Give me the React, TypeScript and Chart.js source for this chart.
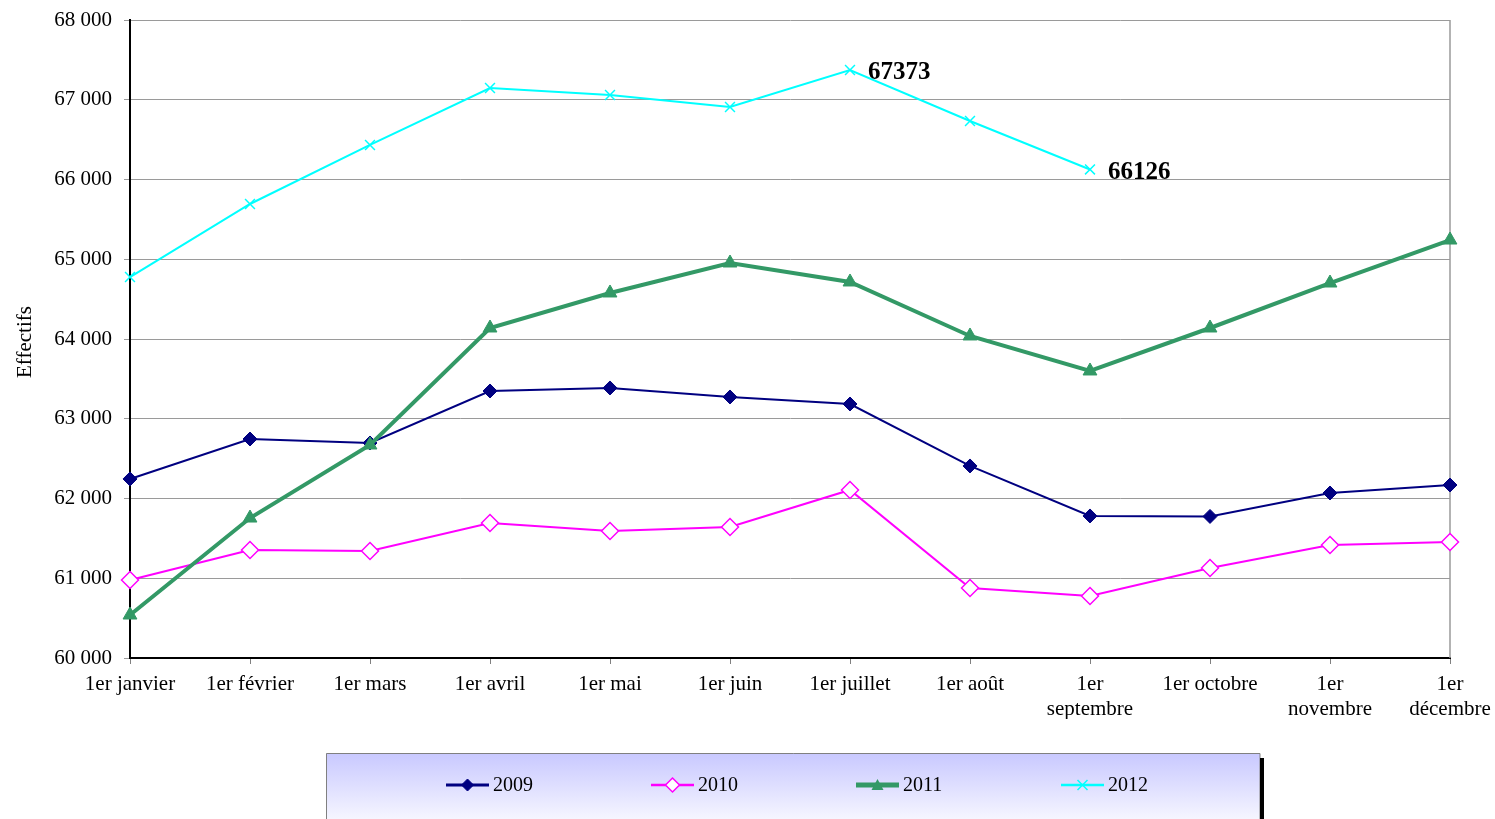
import React, { useEffect, useRef } from 'react';
import { Chart, registerables } from 'chart.js';

Chart.register(...registerables);

const categories: (string | string[])[] = [
  '1er janvier', '1er février', '1er mars', '1er avril', '1er mai', '1er juin',
  '1er juillet', '1er août', ['1er', 'septembre'], '1er octobre', ['1er', 'novembre'], ['1er', 'décembre'],
];

const values2009 = [62245, 62746, 62696, 63348, 63386, 63273, 63185, 62408, 61781, 61775, 62069, 62169];
const values2010 = [60978, 61354, 61342, 61693, 61592, 61643, 62107, 60878, 60777, 61129, 61417, 61455];
const values2011 = [60539, 61755, 62671, 64138, 64577, 64953, 64715, 64038, 63599, 64138, 64702, 65241];
const values2012 = [64777, 65693, 66433, 67147, 67060, 66909, 67373, 66734, 66126, null, null, null];

const seriesNames = ['2009', '2010', '2011', '2012'];
const seriesColors = ['#000080', '#FF00FF', '#339966', '#00FFFF'];

const annotatedIndexes = [6, 8];
const yAxisTitle = 'Effectifs';
const yMin = 60000;
const yMax = 68000;
const yStep = 1000;

const SERIF = '"Liberation Serif", "Times New Roman", serif';

function fmt(v: number) {
  return String(v).replace(/\B(?=(\d{3})+(?!\d))/g, ' ');
}

function diamond(ctx: CanvasRenderingContext2D, x: number, y: number, r: number, fill: string, stroke: string, lw: number) {
  ctx.beginPath();
  ctx.moveTo(x, y - r);
  ctx.lineTo(x + r, y);
  ctx.lineTo(x, y + r);
  ctx.lineTo(x - r, y);
  ctx.closePath();
  ctx.fillStyle = fill;
  ctx.fill();
  ctx.lineWidth = lw;
  ctx.strokeStyle = stroke;
  ctx.stroke();
}

const customPlugin = {
  id: 'customDraw',
  beforeDatasetsDraw(chart: any) {
    const { ctx, chartArea } = chart;
    ctx.save();
    ctx.strokeStyle = '#9a9a9a';
    ctx.lineWidth = 1.5;
    ctx.beginPath();
    ctx.moveTo(chartArea.right, chartArea.top);
    ctx.lineTo(chartArea.right, chartArea.bottom);
    ctx.stroke();
    ctx.restore();
  },
  afterDraw(chart: any) {
    const { ctx, chartArea } = chart;
    const xs = chart.scales.x;
    const ys = chart.scales.y;
    ctx.save();

    // annotations
    ctx.font = `bold 25px ${SERIF}`;
    ctx.fillStyle = '#000';
    ctx.textBaseline = 'middle';
    ctx.textAlign = 'left';
    annotatedIndexes.forEach((i) => {
      const v = values2012[i] as number;
      const px = xs.getPixelForValue(i);
      const py = ys.getPixelForValue(v);
      ctx.fillText(String(v), px + 18, py + 3);
    });

    // y title
    ctx.save();
    ctx.translate(25, (chartArea.top + chartArea.bottom) / 2 + 3);
    ctx.rotate(-Math.PI / 2);
    ctx.font = `21px ${SERIF}`;
    ctx.textAlign = 'center';
    ctx.textBaseline = 'middle';
    ctx.fillStyle = '#000';
    ctx.fillText(yAxisTitle, 0, 0);
    ctx.restore();

    // legend box
    const bx = 326, by = 753, bw = 934, bh = 80;
    const grad = ctx.createLinearGradient(0, by, 0, by + bh);
    grad.addColorStop(0, '#c8c8ff');
    grad.addColorStop(1, '#ffffff');
    ctx.fillStyle = grad;
    ctx.fillRect(bx, by, bw, bh);
    ctx.strokeStyle = '#808080';
    ctx.lineWidth = 1;
    ctx.beginPath();
    ctx.moveTo(bx + 0.5, by + bh);
    ctx.lineTo(bx + 0.5, by + 0.5);
    ctx.lineTo(bx + bw, by + 0.5);
    ctx.lineTo(bx + bw, by + bh);
    ctx.stroke();
    ctx.fillStyle = '#000';
    ctx.fillRect(bx + bw, by + 5, 4, bh);

    const legendX = [446, 651, 856, 1061];
    const ly = 785;
    const lineW = [3, 2.5, 5, 2.5];
    seriesNames.forEach((name, i) => {
      const x0 = legendX[i];
      const x1 = x0 + 43;
      const cx = (x0 + x1) / 2;
      ctx.strokeStyle = seriesColors[i];
      ctx.lineWidth = lineW[i];
      ctx.beginPath();
      ctx.moveTo(x0, ly);
      ctx.lineTo(x1, ly);
      ctx.stroke();
      if (i === 0) diamond(ctx, cx, ly, 6, seriesColors[0], seriesColors[0], 1);
      if (i === 1) diamond(ctx, cx, ly, 7, '#ffffff', seriesColors[1], 1.5);
      if (i === 2) {
        ctx.beginPath();
        ctx.moveTo(cx, ly - 6);
        ctx.lineTo(cx + 6, ly + 5);
        ctx.lineTo(cx - 6, ly + 5);
        ctx.closePath();
        ctx.fillStyle = seriesColors[2];
        ctx.fill();
      }
      if (i === 3) {
        ctx.strokeStyle = seriesColors[3];
        ctx.lineWidth = 1.5;
        ctx.beginPath();
        ctx.moveTo(cx - 5, ly - 5);
        ctx.lineTo(cx + 5, ly + 5);
        ctx.moveTo(cx + 5, ly - 5);
        ctx.lineTo(cx - 5, ly + 5);
        ctx.stroke();
      }
      ctx.font = `20px ${SERIF}`;
      ctx.fillStyle = '#000';
      ctx.textAlign = 'left';
      ctx.textBaseline = 'middle';
      ctx.fillText(name, x1 + 4, ly + 1);
    });

    ctx.restore();
  },
};

export default function App() {
  const canvasRef = useRef<HTMLCanvasElement | null>(null);

  useEffect(() => {
    if (!canvasRef.current) return;
    const chart = new Chart(canvasRef.current, {
      type: 'line',
      data: {
        labels: categories as any,
        datasets: [
          {
            label: seriesNames[0],
            data: values2009,
            borderColor: seriesColors[0],
            backgroundColor: seriesColors[0],
            borderWidth: 2,
            pointStyle: 'rectRot',
            pointRadius: 7,
            pointBorderWidth: 1,
            pointBackgroundColor: seriesColors[0],
            pointBorderColor: seriesColors[0],
            tension: 0,
            clip: false as any,
            order: 3,
          },
          {
            label: seriesNames[1],
            data: values2010,
            borderColor: seriesColors[1],
            backgroundColor: '#ffffff',
            borderWidth: 2,
            pointStyle: 'rectRot',
            pointRadius: 8.5,
            pointBorderWidth: 1.5,
            pointBackgroundColor: '#ffffff',
            pointBorderColor: seriesColors[1],
            tension: 0,
            clip: false as any,
            order: 2,
          },
          {
            label: seriesNames[2],
            data: values2011,
            borderColor: seriesColors[2],
            backgroundColor: seriesColors[2],
            borderWidth: 4,
            pointStyle: 'triangle',
            pointRadius: 8,
            pointBorderWidth: 1,
            pointBackgroundColor: seriesColors[2],
            pointBorderColor: seriesColors[2],
            tension: 0,
            clip: false as any,
            order: 1,
          },
          {
            label: seriesNames[3],
            data: values2012,
            borderColor: seriesColors[3],
            backgroundColor: seriesColors[3],
            borderWidth: 2,
            pointStyle: 'crossRot',
            pointRadius: 7,
            pointBorderWidth: 1.5,
            pointBackgroundColor: seriesColors[3],
            pointBorderColor: seriesColors[3],
            tension: 0,
            spanGaps: false,
            clip: false as any,
            order: 0,
          },
        ],
      },
      options: {
        responsive: false,
        animation: false,
        devicePixelRatio: 1,
        layout: { padding: { left: 0, right: 45, top: 20, bottom: 100 } },
        plugins: {
          legend: { display: false },
          tooltip: { enabled: false },
          title: { display: false },
        },
        scales: {
          x: {
            type: 'category',
            offset: false,
            grid: {
              display: true,
              drawOnChartArea: false,
              drawTicks: true,
              tickLength: 6,
              color: '#808080',
            },
            border: { display: true, color: '#000000', width: 2 },
            ticks: {
              color: '#000',
              font: { family: SERIF, size: 21, lineHeight: 1.2 },
              padding: 8,
              maxRotation: 0,
              minRotation: 0,
              autoSkip: false,
            },
            afterFit: (s: any) => {
              s.height = 61;
              s.paddingLeft = 0;
              s.paddingRight = 0;
            },
          },
          y: {
            type: 'linear',
            min: yMin,
            max: yMax,
            grid: {
              color: '#9a9a9a',
              lineWidth: 1,
              drawTicks: true,
              tickLength: 6,
            },
            border: { display: true, color: '#000000', width: 2 },
            ticks: {
              stepSize: yStep,
              color: '#000',
              font: { family: SERIF, size: 21 },
              padding: 12,
              callback: (v: any) => fmt(Number(v)),
            },
            afterFit: (s: any) => {
              s.width = 130;
              s.paddingTop = 0;
              s.paddingBottom = 0;
            },
          },
        },
      },
      plugins: [customPlugin],
    });
    return () => chart.destroy();
  }, []);

  return (
    <div style={{ position: 'absolute', left: 0, top: 0, width: 1495, height: 819, background: '#fff' }}>
      <canvas ref={canvasRef} width={1495} height={819} style={{ display: 'block' }} />
    </div>
  );
}
